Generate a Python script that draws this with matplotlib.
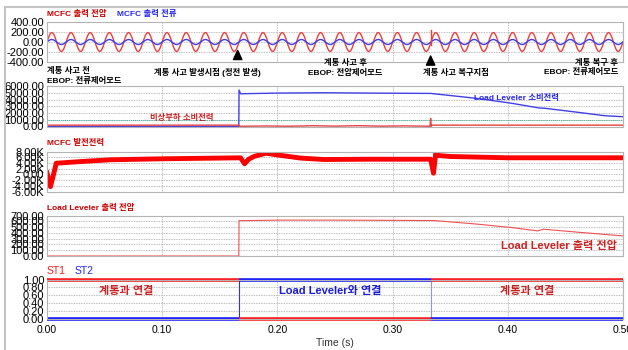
import numpy as np
import matplotlib
matplotlib.use('Agg')
from matplotlib import pyplot as plt
from matplotlib.patches import Rectangle

plt.rcParams['font.family'] = ['Liberation Sans', 'Noto Sans CJK KR', 'DejaVu Sans']

W, H = 628, 350

# ----------------------------------------------------------------------
#  values
# one 60 Hz cycle of MCFC output voltage / current (16 samples per cycle)
volt_cycle = [0, 73, 134, 176, 190, 176, 134, 73, 0, -73, -134, -176, -190, -176, -134, -73]
curr_cycle = [0, 19, 35, 46, 50, 46, 35, 19, 0, -19, -35, -46, -50, -46, -35, -19]
n_cycles = 30
spike_t = [0.3335, 0.3335]
spike_v = [-60, 240]

# Load Leveler consumption power
ll_pow_t = [0.0, 0.1665, 0.1667, 0.168, 0.20, 0.24, 0.28, 0.333, 0.374, 0.403, 0.427, 0.431, 0.461, 0.484, 0.50]
ll_pow_v = [0, 0, 5400, 4850, 4950, 5000, 4950, 4900, 4150, 3450, 2750, 2720, 2100, 1600, 1450]

# emergency load consumption power
em_pow_t = [0.0, 0.1665, 0.1668, 0.19, 0.21, 0.23, 0.25, 0.27, 0.29, 0.31, 0.3325, 0.333, 0.3335, 0.334, 0.50]
em_pow_v = [200, 200, 30, 80, 40, 110, 60, 120, 50, 90, 40, 1200, 40, 200, 200]

# MCFC generated power
mc_t = [0.0, 0.003, 0.006, 0.008, 0.012, 0.03, 0.055, 0.10, 0.15, 0.168, 0.1715, 0.175, 0.18, 0.19,
        0.20, 0.22, 0.24, 0.28, 0.333, 0.3355, 0.3375, 0.34, 0.35, 0.40, 0.45, 0.50]
mc_v = [500, -4300, 500, 3900, 4000, 4500, 5100, 5450, 5700, 5800, 3700, 5300, 6300, 7400,
        6800, 5700, 5200, 5300, 5300, 400, 7600, 6600, 6250, 5800, 5800, 5800]

# Load Leveler output voltage
llv_t = [0.0, 0.1665, 0.1667, 0.20, 0.25, 0.336, 0.374, 0.403, 0.426, 0.431, 0.461, 0.50]
llv_v = [0, 0, 610, 620, 620, 613, 550, 492, 434, 463, 411, 347]

# switch states
sw_start = [0.0, 0.1667, 0.3333]
sw_end = [0.1667, 0.3333, 0.5]
st1_level = [1, 0, 1]
st2_level = [0, 1, 0]

# event arrows (time)
arrow_t = [0.1655, 0.333]

x_ticks = [0.0, 0.1, 0.2, 0.3, 0.4, 0.5]
x_ticklabels = ['0.00', '0.10', '0.20', '0.30', '0.40', '0.50']
y1_ticks = [-400, -200, 0, 200, 400]
y1_labels = ['-400.00', '-200.00', '0.00', '200.00', '400.00']
y2_ticks = [0, 1000, 2000, 3000, 4000, 5000, 6000]
y2_labels = ['0.00', '1000.00', '2000.00', '3000.00', '4000.00', '5000.00', '6000.00']
y3_ticks = [-6000, -4000, -2000, 0, 2000, 4000, 6000, 8000]
y3_labels = ['-6.00K', '-4.00K', '-2.00K', '0.00', '2.00K', '4.00K', '6.00K', '8.00K']
y4_ticks = [0, 100, 200, 300, 400, 500, 600, 700]
y4_labels = ['0.00', '100.00', '200.00', '300.00', '400.00', '500.00', '600.00', '700.00']
y5_ticks = [0, 0.2, 0.4, 0.6, 0.8, 1.0]
y5_labels = ['0.00', '0.20', '0.40', '0.60', '0.80', '1.00']

BLUE = '#2828ee'
DRED = '#cc0000'


def px_box(top, bottom):
    return [47 / W, 1 - bottom / H, 576 / W, (bottom - top) / H]


def ftext(x, y, s, **kw):
    fig.text(x / W, 1 - y / H, s, va='center', **kw)


fig = plt.figure(figsize=(W / 100, H / 100), dpi=100)

ax1 = fig.add_axes(px_box(22, 62))
ax2 = fig.add_axes(px_box(86, 126.5))
ax3 = fig.add_axes(px_box(151.5, 191.5))
ax4 = fig.add_axes(px_box(215.5, 256))
ax5 = fig.add_axes(px_box(279.5, 319))

axes = [ax1, ax2, ax3, ax4, ax5]
yt = [(y1_ticks, y1_labels), (y2_ticks, y2_labels), (y3_ticks, y3_labels),
      (y4_ticks, y4_labels), (y5_ticks, y5_labels)]
for ax, (tk, lb) in zip(axes, yt):
    ax.set_xlim(0, 0.5)
    ax.set_ylim(tk[0], tk[-1])
    ax.set_xticks(x_ticks)
    ax.set_yticks(tk)
    ax.set_yticklabels(lb)
    ax.tick_params(length=0, labelsize=8, pad=2)
    ax.grid(True, ls=(0, (1, 1)), color='#a8a8a8', lw=0.6)
    ax.set_axisbelow(True)
    for s in ax.spines.values():
        s.set_color('#b4b4b4')
    if ax is not ax5:
        ax.set_xticklabels([])
ax5.set_xticklabels(x_ticklabels)
ax5.tick_params(axis='x', labelsize=7.5, pad=4)

# panel 1 - MCFC voltage / current
t_wave = np.linspace(0, 0.5, 16 * n_cycles + 1)
volt = np.append(np.tile(volt_cycle, n_cycles), volt_cycle[0])
curr = np.append(np.tile(curr_cycle, n_cycles), curr_cycle[0])
ax1.plot(t_wave, volt, color='#f03c3c', lw=1.0)
ax1.plot(t_wave, curr, color='#3c3cf0', lw=1.0)
ax1.plot(spike_t, spike_v, color='#f03c3c', lw=1.0)

arrow = dict(arrowstyle='simple,head_width=0.55,head_length=0.6,tail_width=0.22',
             color='black', mutation_scale=11)
ax1.annotate('', xy=(arrow_t[0], 0.36), xytext=(arrow_t[0], 0.02), xycoords=('data', 'axes fraction'),
             textcoords=('data', 'axes fraction'), arrowprops=arrow, annotation_clip=False)
ax1.annotate('', xy=(arrow_t[1], 0.22), xytext=(arrow_t[1], -0.12), xycoords=('data', 'axes fraction'),
             textcoords=('data', 'axes fraction'), arrowprops=arrow, annotation_clip=False)

# panel 2 - consumption power
ax2.axhline(1000, color='#40b0a0', ls=(0, (1, 1)), lw=0.7)
ax2.plot(ll_pow_t, ll_pow_v, color='#4040e8', lw=1.0)
ax2.plot(em_pow_t, em_pow_v, color='#e84040', lw=1.0)

# panel 3 - MCFC generated power
ax3.plot(mc_t, mc_v, color='#ff0000', lw=3.5, solid_joinstyle='round')

# panel 4 - Load Leveler output voltage
ax4.plot(llv_t, llv_v, color='#f05050', lw=0.8)

# panel 5 - switch states
ax5.vlines(sw_start[1], 0, 1, color='#3030e0', lw=0.8)
ax5.vlines(sw_start[2], 0, 1, color='#9090e8', lw=0.8)
ax5.hlines(st1_level, sw_start, sw_end, color='#ff1a1a', lw=2.6, clip_on=False)
ax5.hlines(st2_level, sw_start, sw_end, color='#1a1aff', lw=2.6, clip_on=False)

# titles and notes
kb = dict(fontsize=6, fontweight='bold')
ftext(47, 14, 'MCFC 출력 전압', color=DRED, **kb)
ftext(117, 14, 'MCFC 출력 전류', color=BLUE, **kb)
ftext(47, 71.5, '계통 사고 전', color='black', **kb)
ftext(47, 80.5, 'EBOP: 전류제어모드', color='black', **kb)
ftext(207, 72.5, '계통 사고 발생시점 (정전 발생)', color='black', ha='center', **kb)
ftext(345, 63.5, '계통 사고 후', color='black', ha='center', **kb)
ftext(345, 73, 'EBOP: 전압제어모드', color='black', ha='center', **kb)
ftext(456, 73, '계통 사고 복구지점', color='black', ha='center', **kb)
ftext(618, 62.5, '계통 복구 후', color='black', ha='right', **kb)
ftext(618, 72, 'EBOP: 전류제어모드', color='black', ha='right', **kb)
ftext(182, 118, '비상부하 소비전력', color='#cc2222', ha='center', **kb)
ftext(516, 98, 'Load Leveler 소비전력', color=BLUE, ha='center', **kb)
ftext(47, 143.5, 'MCFC 발전전력', color=DRED, **kb)
ftext(47, 208, 'Load Leveler 출력 전압', color=DRED, **kb)
ftext(617, 246.5, 'Load Leveler 출력 전압', color='#cc2222', ha='right', fontsize=8, fontweight='bold')
ftext(47, 271, 'ST1', color='#ee2020', fontsize=7.5)
ftext(75, 271, 'ST2', color=BLUE, fontsize=7.5)
ftext(126, 291, '계통과 연결', color='#cc2222', ha='center', fontsize=8, fontweight='bold')
ftext(330, 291, 'Load Leveler와 연결', color='#1a1add', ha='center', fontsize=8, fontweight='bold')
ftext(527, 291, '계통과 연결', color='#cc2222', ha='center', fontsize=8, fontweight='bold')
ftext(335, 343, 'Time (s)', color='#333333', ha='center', fontsize=7.5)

# outer frame
fig.add_artist(Rectangle((5 / W, -0.1), 1.0, 1.1 - 7 / H, transform=fig.transFigure,
                         fill=False, ec='#c4c4c4', lw=1.5))

fig.savefig('out.png', dpi=100)
